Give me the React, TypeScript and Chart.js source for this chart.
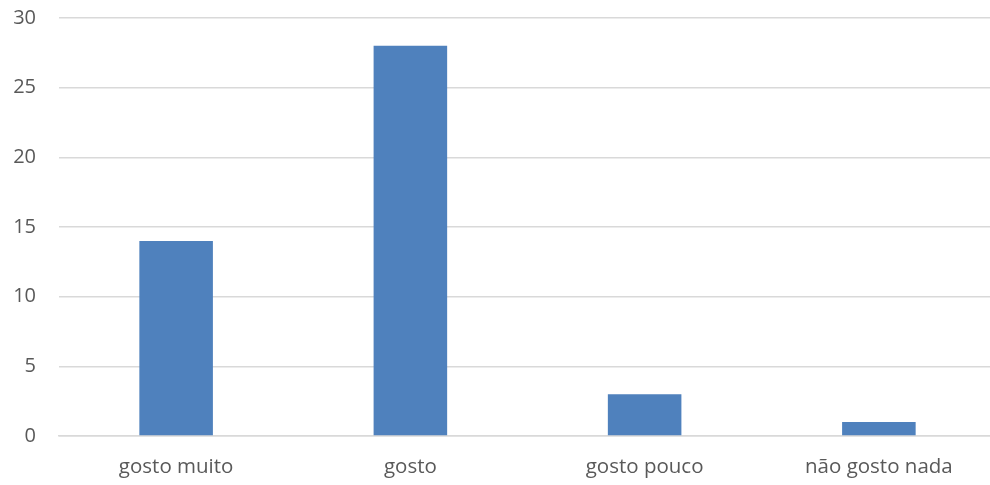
import React, { useEffect, useRef } from "react";
import { Chart, registerables } from "chart.js";

Chart.register(...registerables);

const categories = ["gosto muito", "gosto", "gosto pouco", "não gosto nada"];
const values = [14, 28, 3, 1];
const yTicks = [0, 5, 10, 15, 20, 25, 30];

export default function App() {
  const ref = useRef<HTMLCanvasElement | null>(null);

  useEffect(() => {
    document.body.style.margin = "0";
    const ctx = ref.current!;
    const chart = new Chart(ctx, {
      type: "bar",
      data: {
        labels: categories,
        datasets: [
          {
            data: values,
            backgroundColor: "#4F81BD",
            borderWidth: 0,
            barPercentage: 1,
            categoryPercentage: 0.314,
          },
        ],
      },
      options: {
        animation: false,
        responsive: false,
        maintainAspectRatio: false,
        layout: { padding: { top: 18, right: 1, left: 0, bottom: 0 } },
        plugins: { legend: { display: false }, tooltip: { enabled: false } },
        scales: {
          x: {
            grid: { display: false, drawTicks: false },
            border: { display: true, color: "#D9D9D9", width: 1.5 },
            ticks: {
              color: "#595959",
              font: { family: "Open Sans", size: 20.5 },
              padding: 19,
              maxRotation: 0,
            },
            afterFit: (s: any) => {
              s.height = 49;
              s.paddingLeft = 0;
              s.paddingRight = 0;
            },
          },
          y: {
            min: 0,
            max: 30,
            afterBuildTicks: (s: any) => {
              s.ticks = yTicks.map((v) => ({ value: v }));
            },
            grid: { color: "#D9D9D9", lineWidth: 1.5, drawTicks: false },
            border: { display: false },
            ticks: {
              color: "#595959",
              font: { family: "Open Sans", size: 20 },
              padding: 23,
            },
            afterFit: (s: any) => {
              s.width = 59;
              s.paddingTop = 0;
              s.paddingBottom = 0;
            },
          },
        },
      },
    });
    return () => chart.destroy();
  }, []);

  return (
    <div style={{ width: 990, height: 485, overflow: "hidden", position: "relative" }}>
      <canvas ref={ref} width={997} height={485} style={{ width: 997, height: 485, display: "block" }} />
    </div>
  );
}
